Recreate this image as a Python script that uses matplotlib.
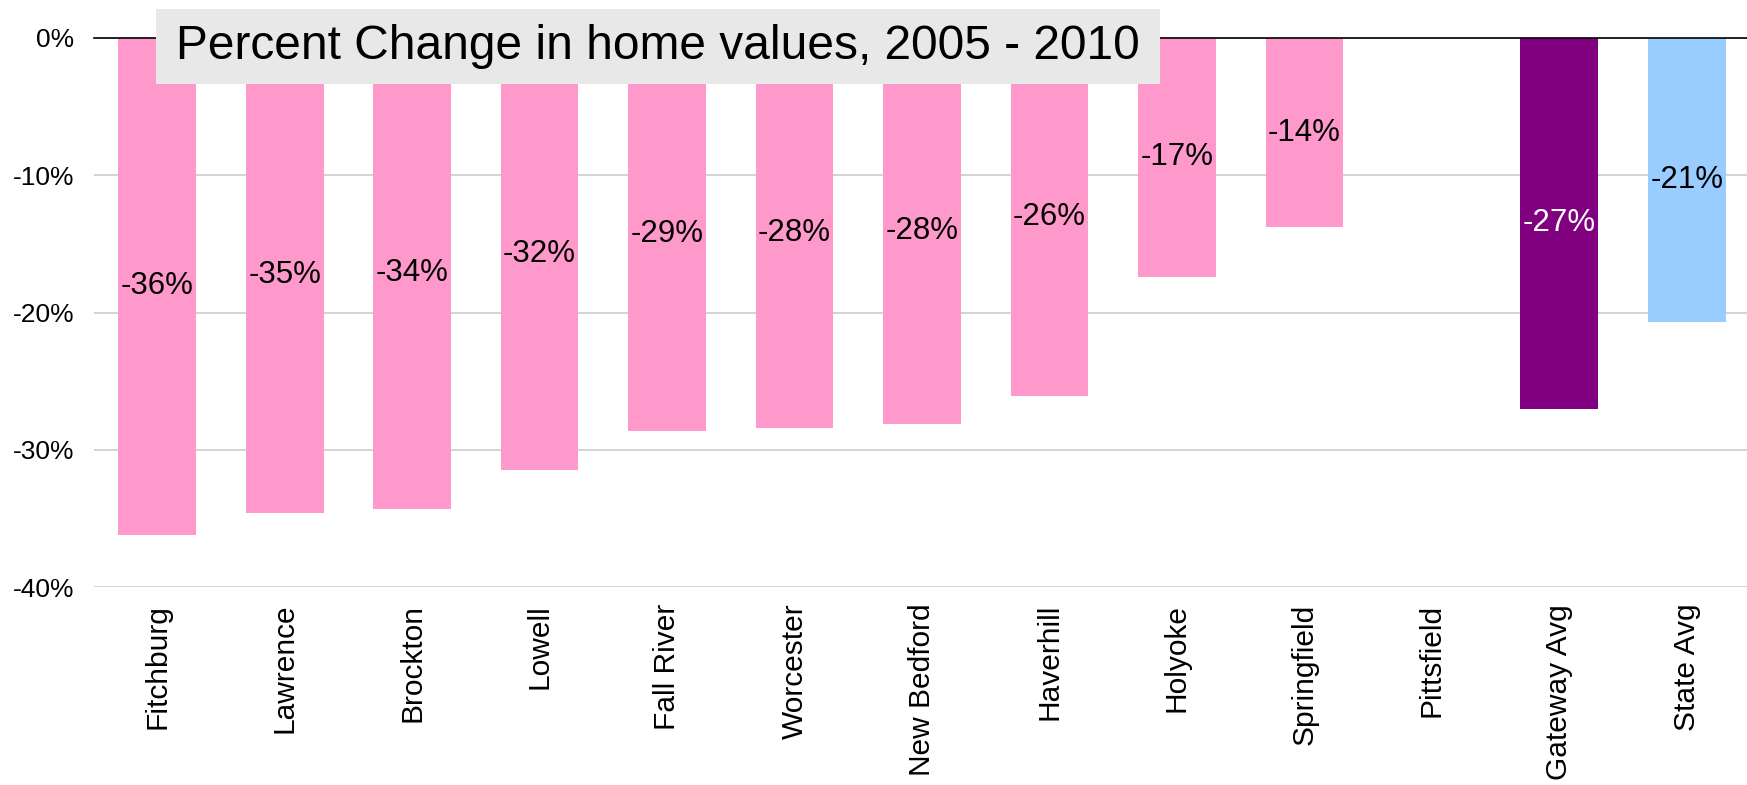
import matplotlib
matplotlib.use("Agg")
import matplotlib.pyplot as plt
import numpy as np
from matplotlib.patches import Rectangle

plt.rcParams['font.family'] = ['Liberation Sans', 'DejaVu Sans']

categories = ["Fitchburg", "Lawrence", "Brockton", "Lowell", "Fall River", "Worcester",
              "New Bedford", "Haverhill", "Holyoke", "Springfield", "Pittsfield",
              "Gateway Avg", "State Avg"]
values = [-36.2, -34.6, -34.3, -31.5, -28.6, -28.4, -28.1, -26.1, -17.4, -13.8,
          np.nan, -27.0, -20.7]
bar_colors = ["#FF99CC"] * 11 + ["#800080", "#99CCFF"]
label_colors = ["black"] * 11 + ["white", "black"]
yticks = [0, -10, -20, -30, -40]
title = "Percent Change in home values, 2005 - 2010"

fig = plt.figure(figsize=(17.47, 7.85), dpi=100)
ax = fig.add_axes([93.5 / 1747, 1 - 587.2 / 785, 1657 / 1747, (587.2 - 37.9) / 785])

x = np.arange(len(categories))
vals = np.array(values, dtype=float)
ax.bar(x, np.nan_to_num(vals), width=0.61, color=bar_colors, zorder=2)

for xi, v, c in zip(x, vals, label_colors):
    if np.isnan(v):
        continue
    ax.text(xi, v / 2, f"{v:.0f}%", ha="center", va="center", fontsize=22.5, color=c, zorder=3)

ax.set_xlim(-0.5, len(categories) - 0.5)
ax.set_ylim(-40, 0)
ax.set_yticks(yticks)
ax.set_yticklabels([f"{t}%" for t in yticks], fontsize=19)
ax.set_xticks(x)
ax.set_xticklabels(categories, rotation=90, fontsize=21.5, va="top")
ax.tick_params(axis="both", length=0)
ax.tick_params(axis="y", pad=14)
ax.tick_params(axis="x", pad=12)
for s in ax.spines.values():
    s.set_visible(False)
ax.grid(axis="y", color="#cccccc", linewidth=1.2, zorder=0)
ax.set_axisbelow(True)
ax.axhline(0, color="black", linewidth=1.2, zorder=4, clip_on=False)

# title box
bx0, bx1 = 156 / 1747, 1160 / 1747
by0, by1 = 1 - 84 / 785, 1 - 9 / 785
fig.patches.append(Rectangle((bx0, by0), bx1 - bx0, by1 - by0, transform=fig.transFigure,
                             facecolor="#E8E8E8", edgecolor="none", zorder=5))
fig.text((bx0 + bx1) / 2, (by0 + by1) / 2, title, ha="center", va="center",
         fontsize=34.5, color="black", zorder=6)

fig.savefig("out.png", dpi=100, facecolor="white")
